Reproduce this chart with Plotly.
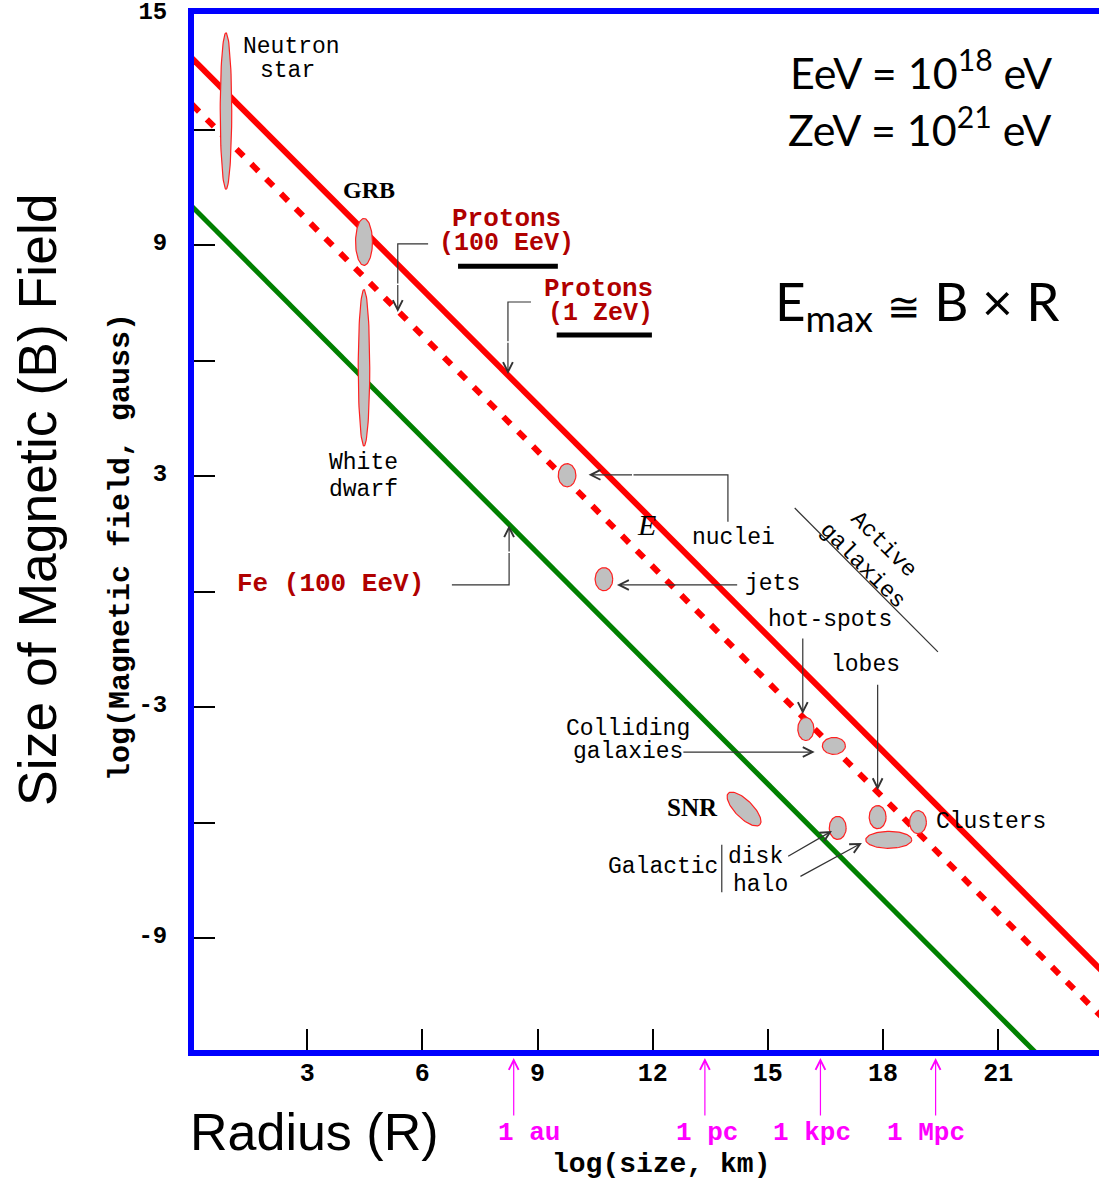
import numpy as np
import plotly.graph_objects as go

# ---------------- data ----------------
# Hillas lines: endpoints in (log size km, log B gauss)
line_names = ["Protons (1 ZeV)", "Protons (100 EeV)", "Fe (100 EeV)"]
line_x0 = [0.0, 0.0, 0.0]
line_x1 = [24.0, 24.0, 22.0]
line_y0 = [13.85, 12.65, 10.0]
line_y1 = [-10.15, -11.35, -12.0]

# Source regions (ellipses): centre and half-extents in log units, tilt in degrees
src_names = ["Neutron star", "GRB", "White dwarf", "AGN nuclei", "AGN jets",
             "hot-spots", "Colliding galaxies", "SNR", "Galactic disk",
             "lobes", "Clusters", "Galactic halo"]
src_logR = [0.885, 4.48, 4.48, 9.77, 10.73, 15.99, 16.72, 14.38, 16.82, 17.86, 18.91, 18.15]
src_logB = [12.48, 9.08, 5.81, 3.02, 0.32, -3.57, -4.01, -5.65, -6.14, -5.86, -5.99, -6.45]
src_dR = [0.15, 0.22, 0.15, 0.23, 0.23, 0.21, 0.30, 0.58, 0.22, 0.22, 0.22, 0.60]
src_dB = [2.03, 0.61, 2.03, 0.30, 0.30, 0.30, 0.22, 0.23, 0.30, 0.30, 0.30, 0.22]
src_tilt = [0, 0, 0, 0, 0, 0, 0, -45, 0, 0, 0, 0]

# Reference length scales (log km)
scale_labels = ["1 au", "1 pc", "1 kpc", "1 Mpc"]
scale_logkm = [8.38, 13.36, 16.37, 19.37]
scale_label_x = [8.78, 13.42, 16.16, 19.13]

x_ticks = [3, 6, 9, 12, 15, 18, 21]
y_ticks = [-9, -6, -3, 0, 3, 6, 9, 12, 15]
y_ticktext = ["-9", "", "-3", "", "3", "", "9", "", "15"]

# ---------------- figure ----------------
W, H = 1099, 1181
ML, MR, MT, MB = 194, 0, 14, 131
PX = 38.39  # px per unit on x
x_range = [2 / PX, 2 / PX + (W - ML - MR) / PX]
y_range = [15 - (H - MT - MB) / 38.5, 15]

MONO = "Liberation Mono, Courier New, monospace"
SANS = "Liberation Sans, Arial, sans-serif"
SERIF = "Liberation Serif, Times New Roman, serif"
CAL = "Lato, Carlito, sans-serif"
DARKRED = "#b00000"
MAG = "#ff00ff"

fig = go.Figure()

line_styles = [dict(color="#ff0000", width=6),
               dict(color="#ff0000", width=6, dash="10px,11px"),
               dict(color="#008000", width=5)]
for i in range(3):
    fig.add_trace(go.Scatter(x=[line_x0[i], line_x1[i]], y=[line_y0[i], line_y1[i]],
                             mode="lines", line=line_styles[i], name=line_names[i],
                             hoverinfo="skip", showlegend=False))

t = np.linspace(0, 2 * np.pi, 90)
for i in range(len(src_names)):
    a = np.radians(src_tilt[i])
    ex = src_dR[i] * np.cos(t)
    ey = src_dB[i] * np.sin(t)
    xs = src_logR[i] + ex * np.cos(a) - ey * np.sin(a)
    ys = src_logB[i] + ex * np.sin(a) + ey * np.cos(a)
    fig.add_trace(go.Scatter(x=xs, y=ys, mode="lines", fill="toself",
                             fillcolor="#c0c0c0", line=dict(color="#ff2020", width=1.2),
                             name=src_names[i], showlegend=False, hoverinfo="name"))

ann = []


def txt(x, y, s, size=23, color="black", family=MONO, weight="normal", angle=0,
        xref="x", yref="y", style="normal"):
    ann.append(dict(x=x, y=y, xref=xref, yref=yref, text=s, showarrow=False,
                    xanchor="center", yanchor="middle", textangle=angle,
                    font=dict(family=family, size=size, color=color, weight=weight, style=style)))


def arrow(x0, y0, x1, y1):
    ann.append(dict(x=x1, y=y1, ax=x0, ay=y0, xref="x", yref="y", axref="x", ayref="y",
                    text="", showarrow=True, arrowhead=5, arrowsize=1.6, arrowwidth=1.2,
                    arrowcolor="#333333", standoff=0))


def seg(xs, ys, width=1.2, color="#333333"):
    fig.add_trace(go.Scatter(x=xs, y=ys, mode="lines", line=dict(color=color, width=width),
                             hoverinfo="skip", showlegend=False))


# labels
txt(2.58, 14.14, "Neutron")
txt(2.50, 13.52, "star")
txt(4.61, 10.43, "GRB", size=24, family=SERIF, weight="bold")
txt(8.20, 9.68, "Protons", size=26, color=DARKRED, weight="bold")
txt(8.18, 9.05, "(100 EeV)", size=25, color=DARKRED, weight="bold")
txt(10.60, 7.86, "Protons", size=26, color=DARKRED, weight="bold")
txt(10.63, 7.23, "(1 ZeV)", size=25, color=DARKRED, weight="bold")
txt(4.48, 3.34, "White")
txt(4.48, 2.64, "dwarf")
txt(3.62, 0.19, "Fe (100 EeV)", size=26, color=DARKRED, weight="bold")
txt(11.85, 1.73, "E", size=30, family=SERIF, style="italic")
txt(14.11, 1.39, "nuclei")
txt(15.13, 0.19, "jets")
txt(16.61, -0.74, "hot-spots")
txt(17.55, -1.91, "lobes")
txt(17.73, 0.95, "Active<br>galaxies", angle=45)
txt(11.35, -3.57, "Colliding")
txt(11.35, -4.17, "galaxies")
txt(13.05, -5.62, "SNR", size=25, family=SERIF, weight="bold")
txt(12.27, -7.16, "Galactic")
txt(14.69, -6.90, "disk")
txt(14.82, -7.62, "halo")
txt(20.81, -5.99, "Clusters")

# underline bars under proton labels
seg([6.93, 9.53], [8.45, 8.45], width=5, color="black")
seg([9.50, 11.98], [6.66, 6.66], width=5, color="black")

# elbow leader lines + arrows
seg([6.15, 5.36, 5.36], [9.03, 9.03, 8.0])
arrow(5.36, 8.0, 5.36, 7.26)
seg([8.83, 8.23, 8.23], [7.52, 7.52, 6.5])
arrow(8.23, 6.5, 8.23, 5.65)
seg([6.77, 8.26, 8.26], [0.17, 0.17, 1.0])
arrow(8.26, 1.0, 8.26, 1.72)
seg([13.96, 13.96, 11.5], [1.81, 3.03, 3.03])
arrow(11.5, 3.03, 10.33, 3.03)
arrow(14.24, 0.17, 11.07, 0.17)
arrow(15.91, -1.18, 15.91, -3.18)
arrow(17.86, -2.38, 17.86, -5.16)
arrow(12.76, -4.17, 16.22, -4.17)
arrow(15.49, -6.90, 16.67, -6.22)
arrow(15.81, -7.42, 17.45, -6.53)
seg([13.80, 13.80], [-6.58, -7.81], width=1.2)
seg([15.70, 19.43], [2.17, -1.57], width=1.2)

# top-right formulae
txt(18.98, 13.55, "EeV = 10<sup>18</sup> eV", size=43, family=CAL)
txt(18.96, 12.09, "ZeV = 10<sup>21</sup> eV", size=43, family=CAL)
txt(18.90, 7.45, "E<sub>max</sub> <span style='font-size:40px'>\u2245</span> B \u00d7 R",
    size=53, family=CAL)

# reference length scales below the axis
for xv in scale_logkm:
    ann.append(dict(x=xv, y=-0.0077, xref="x", yref="paper", ax=0, ay=59,
                    text="", showarrow=True, arrowhead=5, arrowsize=1.6, arrowwidth=1.2,
                    arrowcolor=MAG, standoff=0))
for lab, xv in zip(scale_labels, scale_label_x):
    ann.append(dict(x=xv, y=-0.0801, xref="x", yref="paper", text=lab, showarrow=False,
                    xanchor="center", yanchor="middle",
                    font=dict(family=MONO, size=26, color=MAG, weight="bold")))

# axis titles
ann.append(dict(x=-0.1724, y=0.5319, xref="paper", yref="paper", text="Size of Magnetic (B) Field",
                showarrow=False, textangle=-90, xanchor="center", yanchor="middle",
                font=dict(family=SANS, size=53.5, color="black")))
ann.append(dict(x=-0.0807, y=0.4855, xref="paper", yref="paper", text="log(Magnetic field, gauss)",
                showarrow=False, textangle=-90, xanchor="center", yanchor="middle",
                font=dict(family=MONO, size=30, color="black", weight="bold")))
ann.append(dict(x=0.1326, y=-0.0792, xref="paper", yref="paper", text="Radius (R)",
                showarrow=False, xanchor="center", yanchor="middle",
                font=dict(family=SANS, size=52, color="black")))
ann.append(dict(x=0.516, y=-0.1110, xref="paper", yref="paper", text="log(size, km)",
                showarrow=False, xanchor="center", yanchor="middle",
                font=dict(family=MONO, size=28, color="black", weight="bold")))

fig.update_layout(
    width=W, height=H, margin=dict(l=ML, r=MR, t=MT, b=MB),
    paper_bgcolor="white", plot_bgcolor="white", showlegend=False,
    annotations=ann,
    xaxis=dict(range=x_range, tickvals=x_ticks, ticks="inside", ticklen=21, tickwidth=1.5,
               tickcolor="black", showgrid=False, zeroline=False, showline=True,
               linecolor="#0000ff", linewidth=6, mirror=True, ticklabelstandoff=-5,
               tickfont=dict(family=MONO, size=25, color="black", weight="bold")),
    yaxis=dict(range=y_range, tickvals=y_ticks, ticktext=y_ticktext, ticks="inside",
               ticklen=21, tickwidth=1.5, tickcolor="black", showgrid=False, zeroline=False,
               showline=True, linecolor="#0000ff", linewidth=6, mirror=False,
               ticklabelstandoff=16, ticklabelshift=-3, ticklabeloverflow="allow",
               tickfont=dict(family=MONO, size=24, color="black", weight="bold")),
)

fig.write_html("out.html", config={"displayModeBar": False},
               post_script="document.body.style.margin='0';document.body.style.overflow='hidden';")
